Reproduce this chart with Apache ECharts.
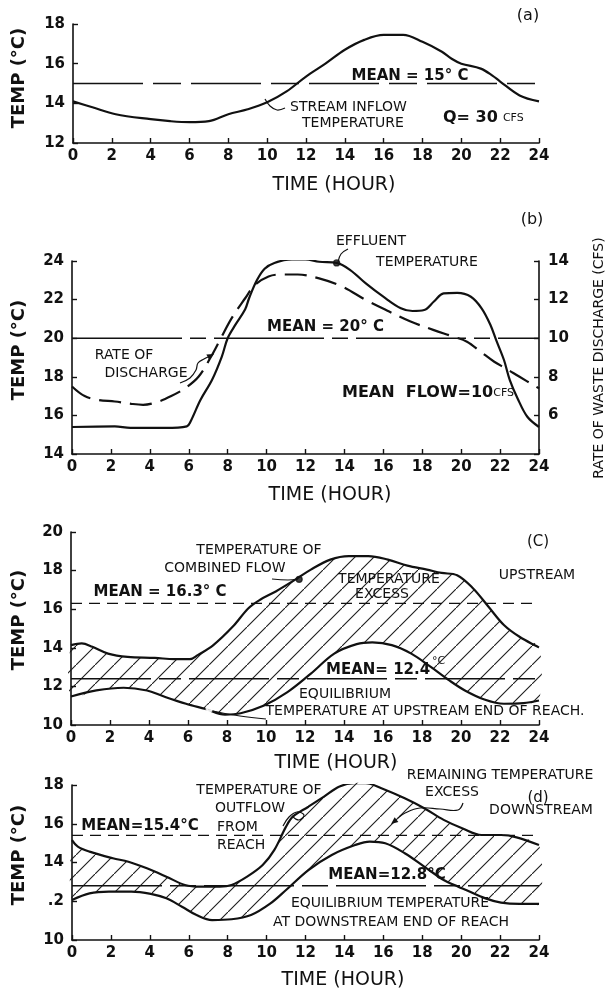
<!DOCTYPE html>
<html>
<head>
<meta charset="utf-8">
<script src="https://cdn.jsdelivr.net/npm/echarts@6/dist/echarts.min.js"></script>
<style>
  html, body { margin: 0; padding: 0; background: #fff; }
  #chart { width: 607px; height: 990px; }
</style>
</head>
<body>
<div id="chart"></div>
<script>
// ---- (a) stream inflow temperature, Q = 30 cfs ----
const inflowHour = [0, 1, 2.2, 4, 5, 6, 7, 8, 9, 10, 11, 12, 13, 14, 15, 16, 17, 18, 19, 19.5, 20, 21, 21.6, 22, 23, 24];
const inflowTemp = [14.1, 13.8, 13.45, 13.2, 13.1, 13.05, 13.1, 13.45, 13.7, 14.05, 14.6, 15.35, 16.0, 16.7, 17.2, 17.45, 17.45, 17.1, 16.6, 16.25, 16.0, 15.75, 15.4, 15.1, 14.4, 14.1];
const meanInflow = 15;

// ---- (b) effluent temperature and rate of waste discharge ----
const effluentHour = [0, 2.2, 3, 4.8, 5.9, 6.1, 6.6, 7.2, 7.7, 8, 8.4, 8.9, 9.1, 9.5, 9.9, 10.4, 11.3, 12, 12.7, 13.6, 14.3, 15.1, 16, 16.9, 17.5, 18.1, 18.6, 19.1, 19.8, 20.5, 21.05, 21.5, 21.8, 22.2, 22.5, 22.9, 23.4, 24];
const effluentTemp = [15.4, 15.43, 15.35, 15.35, 15.43, 15.7, 16.8, 17.85, 19.05, 20.0, 20.7, 21.5, 22.07, 23.0, 23.6, 23.9, 24.08, 24.08, 23.96, 23.9, 23.53, 22.84, 22.15, 21.55, 21.41, 21.46, 21.9, 22.32, 22.35, 22.15, 21.55, 20.7, 19.9, 18.87, 17.83, 16.88, 15.93, 15.4];
const dischargeHour = [0, 0.65, 1.35, 2.2, 3.05, 3.65, 4.4, 5.1, 5.8, 6.5, 7.15, 7.65, 8.2, 8.9, 9.4, 10.1, 10.75, 11.6, 12.7, 13.9, 15.1, 16.3, 17.4, 18.6, 19.6, 20.3, 21.0, 21.7, 22.3, 23.0, 24];
const dischargeCfs = [7.5, 7.0, 6.8, 6.72, 6.6, 6.55, 6.7, 7.0, 7.4, 8.0, 9.05, 10.0, 11.03, 12.07, 12.76, 13.2, 13.3, 13.3, 13.1, 12.67, 11.98, 11.38, 10.86, 10.42, 10.08, 9.82, 9.3, 8.78, 8.43, 8.0, 7.4];
const meanEffluent = 20;
const effluentMarker = [13.6, 23.9];

// ---- (c) upstream: combined flow vs equilibrium temperature ----
const upstreamHour = [0, 0.55, 1.1, 1.9, 2.9, 4.3, 5.3, 6.1, 6.5, 7.3, 8.3, 9.1, 9.7, 10.5, 11.5, 12.3, 13.3, 14.25, 15.25, 16.25, 17.25, 18.25, 19, 19.8, 20.6, 21.4, 22.2, 23, 24];
const upstreamTemp = [14.14, 14.23, 14.05, 13.7, 13.53, 13.48, 13.41, 13.41, 13.62, 14.14, 15.1, 16.05, 16.49, 16.92, 17.53, 18.05, 18.57, 18.75, 18.75, 18.57, 18.26, 18.05, 17.88, 17.76, 17.1, 16.14, 15.18, 14.57, 14.02];
const upEquilHour = [0, 1.3, 2.7, 3.9, 4.7, 5.9, 6.9, 7.9, 8.7, 9.9, 11.1, 12.3, 13.5, 14.65, 15.45, 16.45, 17.45, 18.45, 19.4, 20.2, 21.2, 22.2, 23.2, 24];
const upEquilTemp = [11.48, 11.79, 11.93, 11.79, 11.5, 11.1, 10.83, 10.54, 10.61, 11.01, 11.7, 12.66, 13.7, 14.19, 14.28, 14.14, 13.7, 13.01, 12.31, 11.79, 11.32, 11.1, 11.13, 11.27];
const meanUpstream = 16.3;
const meanUpEquil = 12.4;
const combinedMarker = [11.7, 17.55];
const upEquilMarker = [7.1, 10.85];

// ---- (d) downstream: outflow vs equilibrium temperature ----
const outflowHour = [0, 0.3, 0.9, 2.1, 2.9, 3.85, 4.85, 5.8, 6.6, 7.6, 8.2, 9, 9.8, 10.4, 11, 11.35, 12.15, 12.95, 13.75, 14.5, 15.1, 15.9, 17.1, 18.1, 19.1, 20.05, 21.05, 22.05, 22.85, 24];
const outflowTemp = [15.16, 14.82, 14.56, 14.22, 14.04, 13.7, 13.27, 12.84, 12.75, 12.75, 12.84, 13.27, 13.87, 14.65, 15.85, 16.37, 16.88, 17.4, 17.92, 18.09, 18.09, 17.83, 17.31, 16.8, 16.2, 15.77, 15.42, 15.42, 15.3, 14.9];
const downEquilHour = [0, 0.9, 1.9, 3.05, 4.05, 4.85, 5.65, 6.4, 7.2, 8.2, 9.2, 10.2, 11, 12.15, 13.35, 14.55, 15.3, 16.1, 17.1, 18.1, 19.1, 19.85, 20.25, 21.25, 22.05, 23, 24];
const downEquilTemp = [12.07, 12.41, 12.5, 12.5, 12.38, 12.15, 11.72, 11.29, 11.03, 11.07, 11.29, 11.89, 12.58, 13.61, 14.39, 14.9, 15.08, 14.99, 14.48, 13.79, 13.1, 12.75, 12.58, 12.15, 11.93, 11.86, 11.86];
const meanOutflow = 15.4;
const meanDownEquil = 12.8;

// ---- axis ticks ----
const hourTicks = { min: 0, max: 24, step: 2 };

const FONT = 'DejaVu Sans';
const INK = '#111';
const TICK_FONT = { color: INK, fontSize: 15, fontWeight: 'bold', fontFamily: FONT };

const pairs = (h, v) => h.map((x, i) => [x, v[i]]);

function xAxisFor(gi) {
  return {
    type: 'value', gridIndex: gi, min: hourTicks.min, max: hourTicks.max, interval: hourTicks.step,
    axisLine: { show: true, onZero: false, lineStyle: { color: INK, width: 1.6 } },
    axisTick: { show: true, inside: true, length: 5, lineStyle: { color: INK, width: 1.4 } },
    axisLabel: Object.assign({ margin: 6 }, TICK_FONT),
    splitLine: { show: false }
  };
}
function yAxisFor(gi, min, max, extra) {
  return Object.assign({
    type: 'value', gridIndex: gi, min: min, max: max, interval: 2,
    axisLine: { show: true, onZero: false, lineStyle: { color: INK, width: 1.6 } },
    axisTick: { show: true, inside: true, length: 5, lineStyle: { color: INK, width: 1.4 } },
    axisLabel: Object.assign({ margin: 8 }, TICK_FONT),
    splitLine: { show: false }
  }, extra || {});
}

function curve(xi, yi, h, v, extra) {
  return Object.assign({
    type: 'line', xAxisIndex: xi, yAxisIndex: yi, data: pairs(h, v),
    smooth: 0.35, showSymbol: false, silent: true, z: 4,
    lineStyle: { color: INK, width: 2.2 }
  }, extra || {});
}
function meanLine(xi, yi, m, dash) {
  return {
    type: 'line', xAxisIndex: xi, yAxisIndex: yi, data: [[hourTicks.min, m], [hourTicks.max, m]],
    showSymbol: false, silent: true, z: 3,
    lineStyle: { color: INK, width: 1.4, type: dash }
  };
}

// diagonal hatching used for the temperature-excess bands
function makeHatch(step) {
  const c = document.createElement('canvas');
  c.width = step; c.height = step;
  const g = c.getContext('2d');
  g.strokeStyle = '#1a1a1a';
  g.lineWidth = 1.1;
  g.beginPath();
  g.moveTo(-2, step + 2);
  g.lineTo(step + 2, -2);
  g.stroke();
  return c;
}
const hatchFill = { image: makeHatch(19), repeat: 'repeat' };

function band(xi, yi, upH, upV, loH, loV) {
  return {
    type: 'custom', xAxisIndex: xi, yAxisIndex: yi, data: [[0, 0]], silent: true, z: 2,
    renderItem: function (params, api) {
      const pts = [];
      for (let i = 0; i < upH.length; i++) pts.push(api.coord([upH[i], upV[i]]));
      for (let i = loH.length - 1; i >= 0; i--) pts.push(api.coord([loH[i], loV[i]]));
      return { type: 'polygon', shape: { points: pts, smooth: 0.3 }, style: { fill: hatchFill, stroke: null } };
    }
  };
}

function marker(xi, yi, pt, symbol) {
  return {
    type: 'scatter', xAxisIndex: xi, yAxisIndex: yi, data: [pt], silent: true, z: 6,
    symbol: symbol || 'circle', symbolSize: 6,
    itemStyle: { color: symbol === 'emptyCircle' ? '#fff' : INK, borderColor: INK, borderWidth: 1.3 }
  };
}

// ---- text helpers ----
function label(text, x, y, size, opts) {
  opts = opts || {};
  return {
    type: 'text', x: x, y: y, rotation: opts.rotation || 0, silent: true, z: 10,
    style: {
      text: text, fill: INK,
      font: (opts.weight || 'normal') + ' ' + size + 'px "' + FONT + '"',
      align: opts.align || 'center', verticalAlign: 'middle',
      rich: opts.rich
    }
  };
}
function leader(points) {
  return { type: 'polyline', silent: true, z: 9, shape: { points: points, smooth: 0.4 },
           style: { stroke: INK, lineWidth: 1.2, fill: null } };
}
function arrowHead(tip, from) {
  const dx = tip[0] - from[0], dy = tip[1] - from[1];
  const len = Math.sqrt(dx * dx + dy * dy);
  const ux = dx / len, uy = dy / len;
  const bx = tip[0] - ux * 7, by = tip[1] - uy * 7;
  return { type: 'polygon', silent: true, z: 9,
           shape: { points: [tip, [bx - uy * 3, by + ux * 3], [bx + uy * 3, by - ux * 3]] },
           style: { fill: INK } };
}

const unitRich = {
  big: { fontSize: 16, fontFamily: FONT, fontWeight: 'bold', fill: INK },
  small: { fontSize: 11, fontFamily: FONT, fill: INK }
};

const NOTE = 14;
const graphics = [
  // axis titles
  label('TEMP (°C)', 19, 78, 18, { weight: 'bold', rotation: Math.PI / 2 }),
  label('TEMP (°C)', 19, 350, 18, { weight: 'bold', rotation: Math.PI / 2 }),
  label('TEMP (°C)', 19, 620, 18, { weight: 'bold', rotation: Math.PI / 2 }),
  label('TEMP (°C)', 19, 855, 18, { weight: 'bold', rotation: Math.PI / 2 }),
  label('TIME (HOUR)', 334, 185, 19),
  label('TIME (HOUR)', 330, 495, 19),
  label('TIME (HOUR)', 336, 763, 19),
  label('TIME (HOUR)', 343, 980, 19),
  label('RATE OF WASTE DISCHARGE (CFS)', 599, 358, 14, { rotation: Math.PI / 2 }),

  // (a)
  label('(a)', 528, 16, 16),
  label('MEAN = 15° C', 410, 76, 15, { weight: 'bold' }),
  label('STREAM INFLOW', 290, 107, NOTE, { align: 'left' }),
  label('TEMPERATURE', 302, 123, NOTE, { align: 'left' }),
  label('{big|Q= 30} {small|CFS}', 443, 118, 16, { align: 'left', rich: unitRich }),
  leader([[265, 99], [270, 106], [277, 110], [285, 108]]),

  // (b)
  label('(b)', 532, 220, 16),
  label('EFFLUENT', 371, 241, NOTE),
  label('TEMPERATURE', 427, 262, NOTE),
  leader([[338, 262], [341, 254], [348, 249]]),
  label('MEAN = 20° C', 267, 327, 15, { weight: 'bold', align: 'left' }),
  label('RATE OF', 124, 355, NOTE),
  label('DISCHARGE', 146, 373, NOTE),
  leader([[180, 383], [190, 378], [196, 370], [198, 363], [204, 359], [208, 357]]),
  arrowHead([214, 354], [204, 359]),
  label('{big|MEAN  FLOW=10}{small|CFS}', 342, 393, 16, { align: 'left', rich: unitRich }),

  // (c)
  label('(C)', 538, 542, 15),
  label('TEMPERATURE OF', 259, 550, NOTE),
  label('COMBINED FLOW', 225, 568, NOTE),
  leader([[272, 579], [288, 580], [298, 579]]),
  label('TEMPERATURE', 389, 579, NOTE),
  label('EXCESS', 382, 594, NOTE),
  label('UPSTREAM', 537, 575, NOTE),
  label('MEAN = 16.3° C', 160, 592, 15, { weight: 'bold' }),
  label('MEAN= 12.4', 326, 670, 15, { weight: 'bold', align: 'left' }),
  label('°C', 432, 661, 11, { align: 'left' }),
  label('EQUILIBRIUM', 345, 694, NOTE),
  label('TEMPERATURE AT UPSTREAM END OF REACH.', 425, 711, NOTE),
  leader([[212, 711], [240, 716], [266, 719]]),

  // (d)
  label('REMAINING TEMPERATURE', 500, 775, NOTE),
  label('EXCESS', 452, 792, NOTE),
  label('(d)', 538, 798, 15),
  label('DOWNSTREAM', 541, 810, NOTE),
  leader([[463, 803], [458, 810], [440, 809], [420, 808], [405, 813], [398, 818]]),
  arrowHead([391, 824], [405, 813]),
  label('TEMPERATURE OF', 259, 790, NOTE),
  label('OUTFLOW', 250, 808, NOTE),
  label('FROM', 217, 827, NOTE, { align: 'left' }),
  label('REACH', 217, 845, NOTE, { align: 'left' }),
  leader([[283, 826], [289, 817], [297, 812], [304, 815], [299, 820], [292, 816]]),
  label('MEAN=15.4°C', 140, 826, 15, { weight: 'bold' }),
  label('MEAN=12.8°C', 387, 875, 15, { weight: 'bold' }),
  label('EQUILIBRIUM TEMPERATURE', 390, 903, NOTE),
  label('AT DOWNSTREAM END OF REACH', 391, 922, NOTE)
];

const option = {
  backgroundColor: '#fff',
  animation: false,
  grid: [
    { left: 73, top: 24, width: 466, height: 119 },
    { left: 72, top: 261, width: 467, height: 193 },
    { left: 71, top: 532, width: 468, height: 193 },
    { left: 72, top: 785, width: 467, height: 155 }
  ],
  xAxis: [xAxisFor(0), xAxisFor(1), xAxisFor(2), xAxisFor(3)],
  yAxis: [
    yAxisFor(0, 12, 18),
    yAxisFor(1, 14, 24),
    yAxisFor(1, 4, 14, {
      position: 'right',
      axisLabel: Object.assign({ margin: 9, formatter: v => (v === 4 ? '' : String(v)) }, TICK_FONT)
    }),
    yAxisFor(2, 10, 20),
    yAxisFor(3, 10, 18, {
      axisLabel: Object.assign({ margin: 8, formatter: v => (v === 12 ? '.2' : String(v)) }, TICK_FONT)
    })
  ],
  series: [
    // (a)
    curve(0, 0, inflowHour, inflowTemp),
    meanLine(0, 0, meanInflow, [70, 10, 28, 10]),
    // (b)
    curve(1, 1, effluentHour, effluentTemp),
    curve(1, 2, dischargeHour, dischargeCfs, { lineStyle: { color: INK, width: 2.2, type: [22, 9] } }),
    meanLine(1, 1, meanEffluent, [110, 8, 16, 8]),
    marker(1, 1, effluentMarker),
    // (c)
    band(2, 3, upstreamHour, upstreamTemp, upEquilHour, upEquilTemp),
    curve(2, 3, upstreamHour, upstreamTemp),
    curve(2, 3, upEquilHour, upEquilTemp),
    meanLine(2, 3, meanUpstream, [11, 7]),
    meanLine(2, 3, meanUpEquil, [80, 8, 22, 8]),
    marker(2, 3, combinedMarker),
    marker(2, 3, upEquilMarker, 'emptyCircle'),
    // (d)
    band(3, 4, outflowHour, outflowTemp, downEquilHour, downEquilTemp),
    curve(3, 4, outflowHour, outflowTemp),
    curve(3, 4, downEquilHour, downEquilTemp),
    meanLine(3, 4, meanOutflow, [11, 7]),
    meanLine(3, 4, meanDownEquil, [90, 8, 26, 8])
  ],
  graphic: graphics
};

const chart = echarts.init(document.getElementById('chart'), null, { renderer: 'canvas' });
chart.setOption(option);
</script>
</body>
</html>
